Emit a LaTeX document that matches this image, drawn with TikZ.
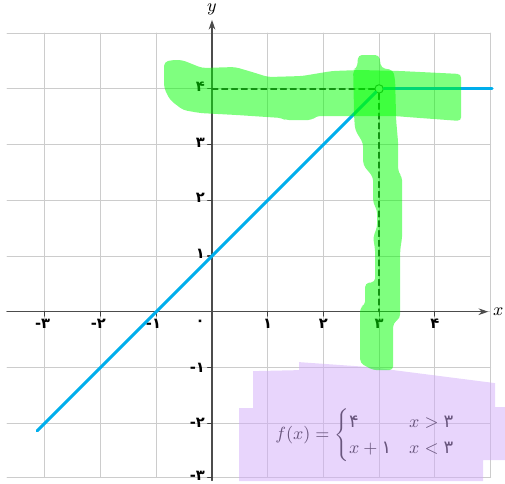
\documentclass[tikz,border=0pt]{standalone}
\usepackage{amsmath}
\usepackage{fontspec}
\newfontfamily\fadig{DejaVu Sans}
\newcommand{\fanum}[1]{\text{\fadig #1}}
\usetikzlibrary{arrows.meta}
\definecolor{graphblue}{RGB}{0,174,236}
\definecolor{markgreen}{RGB}{0,255,0}
\definecolor{markpurple}{RGB}{209,171,249}

\begin{document}
\begin{tikzpicture}[line join=round, line cap=round,
  gridline/.style={draw=black!20, line width=0.5pt},
  axisline/.style={draw=black!70, line width=0.6pt, -{Stealth[length=5pt, width=3.4pt]}},
  graphline/.style={draw=graphblue, line width=1.5pt},
  helpline/.style={draw=black!85, line width=0.65pt, dash pattern=on 3pt off 2pt},
  ticklabel/.style={font=\fadig\bfseries\fontsize{7.5}{8}\selectfont, inner sep=0pt},
  greenmark/.style={fill=markgreen, fill opacity=0.5, rounded corners=2pt},
  purplemark/.style={fill=markpurple, fill opacity=0.5}]
\useasboundingbox (-3.806,-3.093) rectangle (5.260,5.596);

% Grid and axes
\draw[gridline] (-3.68,-2.97) grid (5,5);
\draw[gridline] (-3.68,-2.97) -- (5,-2.97);
\coordinate (xfrom) at (-3.68,0);
\coordinate (xto) at (4.96,0);
\coordinate (yfrom) at (0,-3.03);
\coordinate (yto) at (0,5.24);
\draw[axisline] (xfrom) -- (xto);
\draw[axisline] (yfrom) -- (yto);
\node[font=\small] (xname) at (5.14,0) {$x$};
\node[font=\small] (yname) at (0,5.42) {$y$};

% Tick marks and labels
\foreach \k in {-3,-2,-1,1,2,3,4} {
  \draw[black!75, line width=0.6pt] (\k,0) -- (\k,-0.08);
}
\foreach \k in {-2.97,-2,-1,1,2,3,4} {
  \draw[black!75, line width=0.6pt] (0,\k) -- (-0.08,\k);
}
\node[ticklabel] (xmthree) at (-3.04,-0.21) {-۳};
\node[ticklabel] (xmtwo) at (-2.04,-0.21) {-۲};
\node[ticklabel] (xmone) at (-1.05,-0.21) {-۱};
\node[ticklabel] (origin) at (-0.215,-0.2) {۰};
\node[ticklabel] (xone) at (1,-0.21) {۱};
\node[ticklabel] (xtwo) at (2,-0.21) {۲};
\node[ticklabel] (xthreelab) at (3,-0.21) {۳};
\node[ticklabel] (xfour) at (4,-0.21) {۴};
\node[ticklabel, anchor=east] (yfourlab) at (-0.12,4.04) {۴};
\node[ticklabel, anchor=east] (ythree) at (-0.12,3.04) {۳};
\node[ticklabel, anchor=east] (ytwo) at (-0.12,2.04) {۲};
\node[ticklabel, anchor=east] (yone) at (-0.12,1.04) {۱};
\node[ticklabel, anchor=east] (ymone) at (-0.12,-1) {-۱};
\node[ticklabel, anchor=east] (ymtwo) at (-0.12,-2) {-۲};
\node[ticklabel, anchor=east] (ymthree) at (-0.12,-2.95) {-۳};

% Graph of f with the open point at (3,4)
\node[circle, draw=black!75, line width=0.5pt, fill=white, inner sep=0pt,
  minimum size=0.15cm] (hole) at (3,4) {};
\coordinate (lineend) at (-3.14,-2.14);
\coordinate (rayend) at (5.03,4);
\coordinate (yfour) at (0,4);
\coordinate (xthree) at (3,0);
\draw[helpline] (yfour) -- (hole.west);
\draw[helpline] (hole.south) -- (xthree);
\draw[graphline] (lineend) -- (hole.south west);
\draw[graphline] (hole.east) -- (rayend);

% Definition of f
\node[font=\fontsize{9.2}{11}\selectfont] (fdef) at (2.756,-2.214)
  {$f(x)=\begin{cases}\fanum{۴} & x>\fanum{۳}\\ x+\fanum{۱} & x<\fanum{۳}\end{cases}$};

% Highlighter marks, in pixel units
\begin{scope}[shift={(-3.806cm,5.596cm)}, x=0.017953cm, y=-0.017953cm]
\fill[purplemark] (239,408) -- (253,408) -- (253,371) -- (299,370) -- (299,362)
  -- (370,367) -- (495,383) -- (495,407) -- (505,407) -- (505,460)
  -- (483,460) -- (483,481) -- (239,481) -- cycle;
\fill[greenmark] (164,62) -- (172,60) -- (182,60) -- (202,68) -- (235,67)
  -- (252,72) -- (268,77) -- (302,76) -- (332,71) -- (360,70) -- (400,71)
  -- (461,74) -- (461,121) -- (407,117) -- (395,116) -- (316,116)
  -- (312,120) -- (285,120) -- (282,118) -- (252,116) -- (237,115)
  -- (200,113) -- (183,110) -- (170,100) -- (164,88) -- cycle;
\fill[greenmark] (358,55) -- (379,55) -- (381,68) -- (393,70) -- (395,80)
  -- (396,120) -- (398,143) -- (398,172) -- (402,177) -- (402,237)
  -- (400,250) -- (400,318) -- (393,323) -- (393,370) -- (373,370)
  -- (360,363) -- (360,307) -- (365,305) -- (365,283) -- (375,282)
  -- (375,250) -- (373,237) -- (377,227) -- (377,210) -- (373,203)
  -- (373,177) -- (363,165) -- (363,143) -- (355,130) -- (354,117)
  -- (353,70) -- (357,68) -- cycle;
\end{scope}
\end{tikzpicture}
\end{document}
